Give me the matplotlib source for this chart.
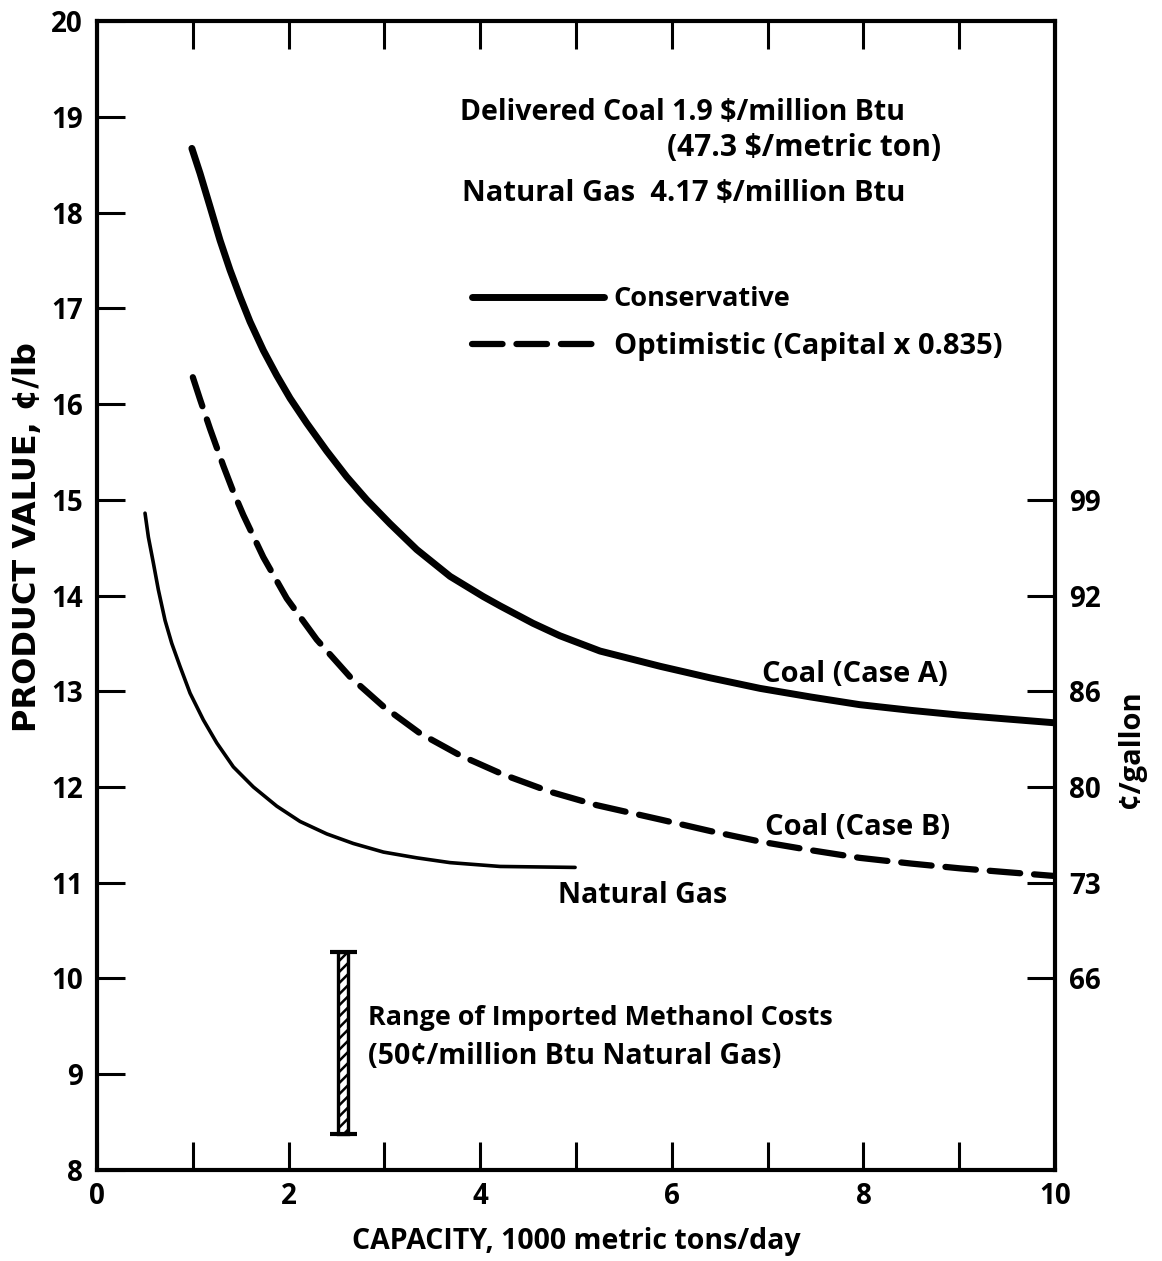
import matplotlib
matplotlib.use("Agg")
import matplotlib.pyplot as plt

plt.rcParams['font.family'] = ['Open Sans', 'DejaVu Sans']
plt.rcParams['font.weight'] = 'bold'
plt.rcParams['lines.scale_dashes'] = False
plt.rcParams['hatch.linewidth'] = 1.8

# ---- data ----
coal_a_x = [0.99, 1.075, 1.18, 1.284, 1.388, 1.493, 1.597, 1.736, 1.875, 2.015, 2.189,
            2.397, 2.606, 2.815, 3.058, 3.337, 3.685, 4.03, 4.21, 4.55, 4.83, 5.25,
            5.88, 6.4, 6.92, 7.45, 7.96, 8.5, 9.01, 9.5, 10.0]
coal_a_y = [18.67, 18.41, 18.06, 17.71, 17.40, 17.12, 16.86, 16.56, 16.30, 16.06, 15.80,
            15.51, 15.24, 15.00, 14.75, 14.48, 14.20, 13.99, 13.89, 13.71, 13.58, 13.42,
            13.26, 13.14, 13.03, 12.94, 12.86, 12.80, 12.75, 12.71, 12.67]

coal_b_x = [1.0, 1.075, 1.18, 1.32, 1.42, 1.527, 1.736, 1.98, 2.293, 2.641, 2.99, 3.372,
            3.79, 4.24, 4.73, 5.216, 5.88, 6.4, 6.92, 7.45, 7.96, 8.5, 9.01, 9.5, 10.0]
coal_b_y = [16.28, 16.05, 15.74, 15.35, 15.09, 14.84, 14.40, 13.97, 13.54, 13.15, 12.84, 12.56,
            12.33, 12.13, 11.95, 11.81, 11.66, 11.54, 11.43, 11.34, 11.26, 11.20, 11.15, 11.11, 11.07]

gas_x = [0.501, 0.536, 0.588, 0.64, 0.71, 0.78, 0.866, 0.971, 1.11, 1.25, 1.423, 1.632,
         1.876, 2.119, 2.398, 2.675, 2.99, 3.337, 3.685, 4.207, 4.99]
gas_y = [14.86, 14.61, 14.34, 14.06, 13.74, 13.50, 13.26, 12.98, 12.70, 12.46, 12.21, 12.00,
         11.80, 11.64, 11.51, 11.41, 11.32, 11.26, 11.21, 11.17, 11.16]

import_x = 2.57
import_low = 8.38
import_high = 10.28

x_major = [0, 2, 4, 6, 8, 10]
x_minor = [1, 3, 5, 7, 9]
y_ticks = list(range(8, 21))
right_ticks = [10, 11, 12, 13, 14, 15]
right_labels = ['66', '73', '80', '86', '92', '99']

# ---- figure ----
fig = plt.figure(figsize=(11.62, 12.61), dpi=100)
ax = fig.add_axes([0.0835, 0.0722, 0.8245, 0.9111])

ax.plot(coal_a_x, coal_a_y, color='black', lw=5.0, solid_capstyle='round',
        solid_joinstyle='round', label='Conservative')
ax.plot(coal_b_x, coal_b_y, color='black', lw=4.5, dashes=(22, 10),
        dash_capstyle='round', dash_joinstyle='round',
        label='Optimistic (Capital x 0.835)')
ax.plot(gas_x, gas_y, color='black', lw=2.6, solid_capstyle='round',
        solid_joinstyle='round')

# range of imported methanol costs
ax.bar([import_x], [import_high - import_low], bottom=import_low, width=0.1,
       facecolor='white', edgecolor='black', hatch='///', lw=2.4)
ax.hlines([import_low, import_high], import_x - 0.14, import_x + 0.14,
          color='black', lw=3)

ax.set_xlim(0, 10)
ax.set_ylim(8, 20)

for s in ax.spines.values():
    s.set_linewidth(3.0)

ax.set_xticks(x_major)
ax.set_xticks(x_minor, minor=True)
ax.set_yticks(y_ticks)
ax.tick_params(axis='both', which='both', direction='in', width=2.2, length=20,
               labelsize=20, top=True, right=False)
ax.tick_params(axis='x', which='both', pad=9)
ax.tick_params(axis='y', which='both', pad=10)
ax.tick_params(axis='x', which='minor', labelbottom=False)

ax2 = ax.twinx()
ax2.set_ylim(8, 20)
ax2.set_yticks(right_ticks)
ax2.set_yticklabels(right_labels)
ax2.tick_params(axis='y', direction='in', width=2.2, length=20, labelsize=20, pad=10)
for s in ax2.spines.values():
    s.set_visible(False)

ax.set_xlabel('CAPACITY, 1000 metric tons/day', fontsize=20.5, fontweight='bold', labelpad=11)
ax.set_ylabel('PRODUCT VALUE, ¢/lb', fontsize=23, fontweight='bold',
              family=['DejaVu Sans'])
ax.yaxis.set_label_coords(-0.056, 0.551)
fig.text(1132 / 1162, 1 - 749 / 1261, '¢/gallon', rotation=90, fontsize=21,
         fontweight='bold', ha='center', va='center')

ax.text(3.79, 19.05, 'Delivered Coal 1.9 $/million Btu', fontsize=20.5, va='center', ha='left')
ax.text(5.95, 18.67, '(47.3 $/metric ton)', fontsize=21.5, va='center', ha='left')
ax.text(3.81, 18.20, 'Natural Gas  4.17 $/million Btu', fontsize=21, va='center', ha='left')

ax.text(6.94, 13.17, 'Coal (Case A)', fontsize=21, va='center', ha='left')
ax.text(6.97, 11.58, 'Coal (Case B)', fontsize=21, va='center', ha='left')
ax.text(4.81, 10.87, 'Natural Gas', fontsize=20.5, va='center', ha='left')
ax.text(2.83, 9.59, 'Range of Imported Methanol Costs', fontsize=19.4, va='center', ha='left')
ax.text(2.83, 9.19, '(50¢/million Btu Natural Gas)', fontsize=20.5, va='center', ha='left')

leg = ax.legend(loc='upper left', bbox_to_anchor=(0.391, 0.769), frameon=False,
                fontsize=19.5, handlelength=4.9, handletextpad=0.35,
                labelspacing=0.72, borderpad=0, borderaxespad=0)
leg.get_texts()[1].set_fontsize(21)

fig.savefig('out.png', dpi=100)
